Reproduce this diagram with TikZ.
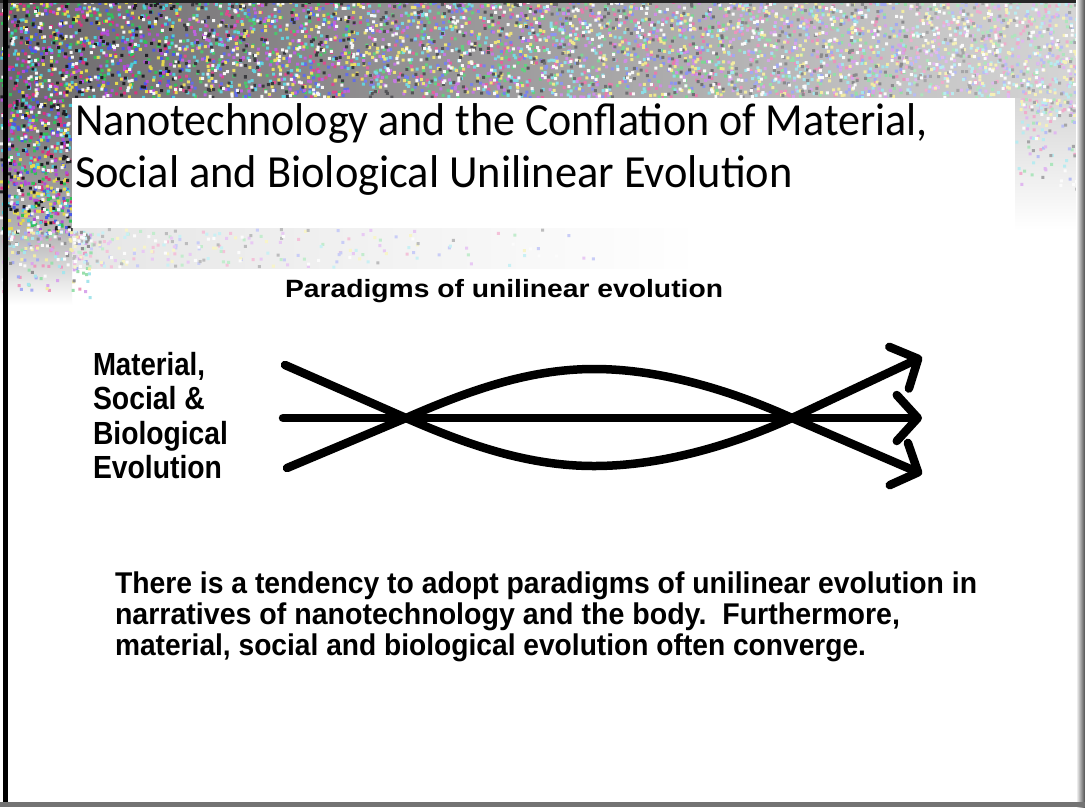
\documentclass[tikz,border=0pt]{standalone}
\usepackage{fontspec}
\setmainfont{Liberation Sans}
\newfontfamily\titlefont{Carlito}
\usetikzlibrary{arrows.meta}
\newcommand{\fitw}[2]{\resizebox{#1}{\height}{#2}}
\definecolor{noiseA}{rgb}{0.42,0.41,0.42}
\definecolor{noiseB}{rgb}{0.84,0.84,0.84}
\definecolor{noiseC}{rgb}{0.72,0.72,0.72}
\definecolor{noiseD}{rgb}{0.90,0.90,0.90}
\definecolor{nzA}{rgb}{0.85,0.20,0.50}
\definecolor{nzB}{rgb}{0.20,0.75,0.35}
\definecolor{nzC}{rgb}{0.30,0.35,0.90}
\definecolor{nzD}{rgb}{0.70,0.30,0.85}
\definecolor{nzE}{rgb}{0.30,0.80,0.85}
\definecolor{nzF}{rgb}{0.90,0.85,0.30}
\definecolor{nzG}{rgb}{0.12,0.12,0.14}
\definecolor{nzH}{rgb}{0.96,0.96,0.96}
\begin{document}
\begin{tikzpicture}[x=1pt,y=-1pt,
  evo/.style={line width=8.5pt, line cap=round, line join=round},
  evoarrow/.style={evo, -{Straight Barb[length=21pt,width=46pt,round]}},
  txt/.style={anchor=base west, inner sep=0pt, outer sep=0pt, text=black},
]
\useasboundingbox (0,0) rectangle (1085,807);
\fill[white] (0,0) rectangle (1085,807);
% ---- noisy background tones ----
\shade[left color=noiseA, right color=noiseB] (0,0) rectangle (1085,98);
\shade[top color=noiseA, bottom color=noiseC] (0,98) rectangle (72,235);
\shade[top color=noiseC, bottom color=white] (0,235) rectangle (72,305);
\shade[left color=noiseD, right color=white] (72,226) rectangle (700,268);
\shade[top color=noiseB, bottom color=white] (1015,98) rectangle (1085,230);
% ---- noise speckles ----
\pgfmathsetseed{7}
\foreach \s in {0,...,5}{
  \pgfmathtruncatemacro\mixw{100-12*\s}
  \foreach \c in {nzA,nzB,nzC,nzD,nzE,nzF,nzG,nzH}{
    \fill[\c!\mixw!white] foreach \k in {1,...,105} { ({\s*181+rnd*181},{rnd*96}) rectangle ++(3,3) };
  }
}
\foreach \c in {nzA,nzB,nzC,nzD,nzE,nzF,nzG,nzH}{
  \fill[\c] foreach \k in {1,...,75} { ({rnd*70},{98+rnd*135}) rectangle ++(3,3) };
  \fill[\c!50!white] foreach \k in {1,...,25} { ({rnd*90},{230+rnd*rnd*70}) rectangle ++(3,3) };
  \fill[\c!30!white] foreach \k in {1,...,30} { ({72+600*rnd*rnd},{228+rnd*38}) rectangle ++(3,3) };
  \fill[\c!40!white] foreach \k in {1,...,20} { ({1015+rnd*68},{98+100*rnd*rnd}) rectangle ++(3,3) };
}
% ---- title box ----
\fill[white] (72,98) rectangle (1015,228);
% ---- frame ----
\fill[black!85] (0,0) rectangle (1085,3);
\fill[black] (3,0) rectangle (8,807);
\shade[left color=white, right color=black!70] (1076,0) rectangle (1085,807);
\fill[black!55] (0,802) rectangle (1085,807);
% ---- texts ----
\node[txt] (title1) at (75,135) {\fitw{853pt}{\titlefont\fontsize{46pt}{52pt}\selectfont Nanotechnology and the Conflation of Material,}};
\node[txt] (title2) at (75,187) {\fitw{718pt}{\titlefont\fontsize{46pt}{52pt}\selectfont Social and Biological Unilinear Evolution}};
\node[txt] (head) at (285,297) {\fitw{438pt}{\bfseries\fontsize{25pt}{28pt}\selectfont Paradigms of unilinear evolution}};
\node[txt] (lab1) at (93,375) {\fitw{112pt}{\bfseries\fontsize{32pt}{34pt}\selectfont Material,}};
\node[txt] (lab2) at (93,409) {\fitw{112pt}{\bfseries\fontsize{32pt}{34pt}\selectfont Social \&}};
\node[txt] (lab3) at (93,444) {\fitw{135pt}{\bfseries\fontsize{32pt}{34pt}\selectfont Biological}};
\node[txt] (lab4) at (93,478) {\fitw{129pt}{\bfseries\fontsize{32pt}{34pt}\selectfont Evolution}};
\node[txt] (body1) at (115,593) {\fitw{862pt}{\bfseries\fontsize{30pt}{31pt}\selectfont There is a tendency to adopt paradigms of unilinear evolution in}};
\node[txt] (body2) at (115,624) {\fitw{785pt}{\bfseries\fontsize{30pt}{31pt}\selectfont narratives of nanotechnology and the body.\ \ Furthermore,}};
\node[txt] (body3) at (115,655) {\fitw{751pt}{\bfseries\fontsize{30pt}{31pt}\selectfont material, social and biological evolution often converge.}};
% ---- evolution lines ----
\coordinate (tl) at (285,365);
\coordinate (ml) at (283,418);
\coordinate (bl) at (287,468);
\coordinate (xl) at (406,418);
\coordinate (xr) at (792,418);
\coordinate (pk) at (594,369);
\coordinate (tr) at (594,466);
\coordinate (ur) at (922,357);
\coordinate (mr) at (922,418);
\coordinate (lr) at (922,474);
\draw[evoarrow] (ml) -- (mr);
\draw[evoarrow] (tl) -- (xl) .. controls (470,446) and (530,466) .. (tr) .. controls (660,466) and (730,446) .. (xr) -- (ur);
\draw[evoarrow] (bl) -- (xl) .. controls (470,390) and (530,369) .. (pk) .. controls (660,369) and (730,390) .. (xr) -- (lr);
\end{tikzpicture}
\end{document}
